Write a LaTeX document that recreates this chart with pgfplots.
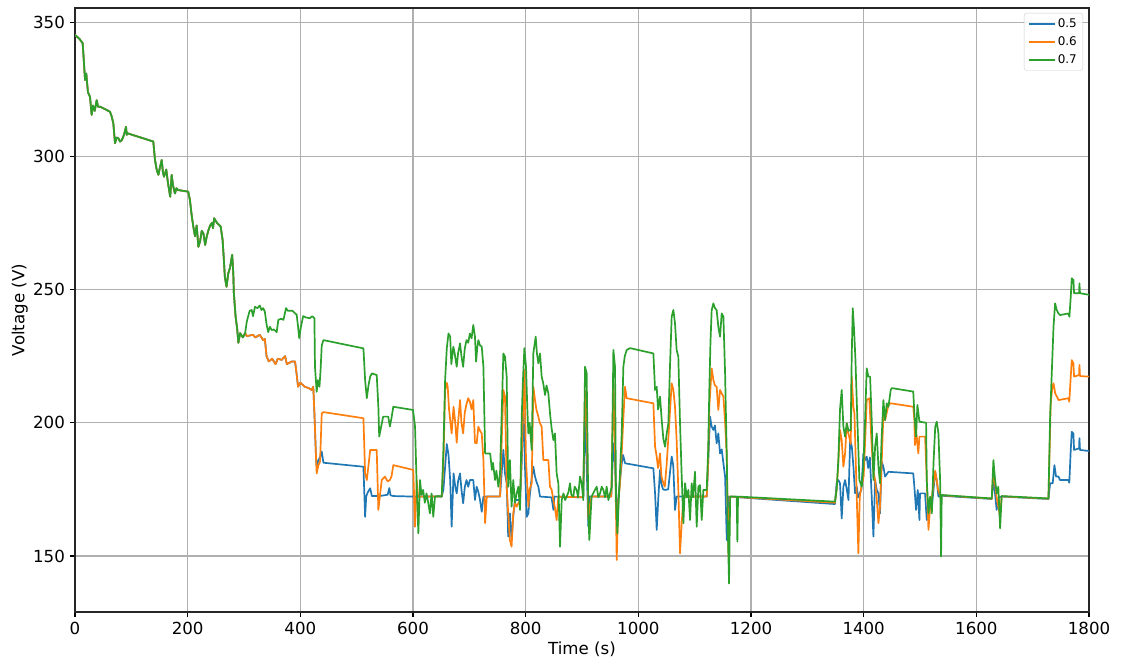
\documentclass[border=0pt]{standalone}
\usepackage{fontspec}
\setmainfont{DejaVu Sans}
\usepackage{pgfplots}
\usepackage{pgfplotstable}
\pgfplotsset{compat=1.18}
\definecolor{mblue}{HTML}{1F77B4}
\definecolor{morange}{HTML}{FF7F0E}
\definecolor{mgreen}{HTML}{2CA02C}
\definecolor{mgrid}{HTML}{B0B0B0}

\pgfplotstableread{
x y
0 345.5
8 344
13.6 342.4
15 338
17.8 328.6
20 331
23 324
26.6 322.3
29.6 315.5
32 319
35 317
38.5 321
41 318.5
44.4 318.6
50 318
62 316.7
65 315
68 312.4
71 304.9
74 307
77 306.7
80 305.5
83 306
87 308
90.5 311
92 308
93 308.6
139 305.5
142 298.6
145 295
148 293
151 296
154 298.6
156 294
158 292.3
162 295
165 290
169 284.8
171.6 293
174 289
177.5 286
180 288
183 287.3
201 286.7
204 283.6
207 278
210 273.6
213 270
216 274
219 266
222 268
225 272
228 271
231 266.7
234 270
237 272.3
240 274
243 275
245 273
247 276.7
252 275
258.6 273.6
262 268.6
264 262
266 254.8
269 251
272 256
275 258
279 263
281 256
282 248.6
285 240
288 235
290 230
293 233.6
298 232
302 233.6
305 238
310 242
313.7 242.3
316 240
319.5 243.5
324 243
328 244
331 242.3
334 243
337 241.7
340 237
343 234
346 236
349 234.8
353 235
358 234
361 238.6
366 239
370 238.6
374.6 243
378 242
386 242
393.5 240.5
396 236
398 231.7
401 236
405 240
410 239.5
417 239.2
421 240
425 239.2
426 221
429 211.6
431 216
434 213.5
436 220
438 229
441 231
512 227.9
515 216
518 209.2
521 214
524 217.3
527 218.5
535.6 217.9
538.5 206
540 194.8
543 198
547 202.3
556 202.3
559 198.6
562 202
565 206
600 204.8
603.6 198.6
606.6 176
609.5 158.5
612.5 178.5
615 173
618 174.8
621 170
624 173.5
627 170
630 166
633 173.5
636 164.7
639 172.3
645 172.5
651 172.3
654 190
657 216
660 228
663 233.5
666 232.3
668 222
671.6 228.5
674 226
677.6 221
680 226
683.5 229.8
686 225
689 221
692 228
695 231
698 230
701 233.5
704 231.7
707 236.7
710 232.3
712 222.9
714 228
716 231
719 229
722 228.6
725 221
728 188.5
737 188.5
740 182.3
742 185
745.6 178.5
748 182
751.5 176
754.5 181
757 200
760.4 226
763.3 224.8
766.3 217.3
769 176
772 186
775 168.5
778 178.5
781 170
784 173.5
787 176
790 167.3
793 202.3
795 215
797.7 228
800.6 221
803 205
804.8 196
807 200
810.7 189.8
813.6 226
817.8 232.3
820 226
822.5 222.3
825.5 226
828.4 217.3
831 215
834.4 210.4
837 214
840.3 211
843.2 203.5
846 198
849.2 193.5
852 196
855 181
858 177.3
861 153.5
864 171
867 173.5
870 171
872.8 172.3
876 174
878.7 177.3
881 173
884.6 172.3
887 176
890.5 174.8
893 172
896.5 179.8
899.4 177.3
902.4 171
905.4 221
908.3 218.5
911.3 166
913 156
917 172.3
921 174
926 176
929 172
932 173.5
935 176
938 174.8
941 172
943.8 176
946.8 171
949.8 173.5
952.7 176
955.7 227.3
958.6 221
960.4 171
962.8 158.5
966.3 176
970.5 196
973.4 221
976 225
979.3 227.3
985.3 228
1026.7 226
1029.7 212.3
1032.6 213.5
1035 205
1038.5 209.8
1041.5 201
1044.4 194
1047.4 191
1050.4 196
1053.3 199.8
1056 220
1059.2 239.8
1062.2 242.3
1065.1 237.3
1068 227.3
1071 224.8
1074 199.8
1077 179.8
1080 162.3
1082.9 177.3
1086 172
1088.8 174.8
1091.8 163.5
1094.7 177.3
1097 172
1100.6 181.6
1103.6 161
1106.6 176
1109.5 176.6
1112.5 163.5
1115.4 174.8
1121.4 174.8
1124 190
1126 212.3
1128 230
1130.2 242.3
1133.2 244.8
1136 243
1139 242.3
1142 236
1145 232.3
1148 241
1151 239.8
1154 218.5
1157 187.3
1158.6 162.3
1161 139.7
1163 172.3
1174.6 172.3
1175.8 155.4
1177 172.3
1349 170.4
1352 174.8
1355 186
1358 205
1361 212.3
1364 198.5
1367 194.8
1370 199.8
1373 197
1377 197.3
1378.8 225
1380.6 243
1383 234.8
1385.4 223.6
1389 199.8
1392.4 178.5
1396.6 176
1399.5 183.5
1402.5 201
1405.4 220.4
1408.4 217.3
1411.4 217.3
1414.3 201
1417.3 178.5
1420.3 191
1423.2 196
1426.2 183.5
1429 177.3
1432 194.8
1435 208.5
1438 201
1441 207.3
1444 206
1448 212.3
1450 213
1488 211.7
1490 203.5
1493 194.8
1495.4 206.7
1499 200.4
1510.8 200
1512 178.5
1515 166
1518 172.3
1521 166
1524 185
1527 198.5
1529.7 200.4
1532.7 196
1535.7 178.5
1537.4 149.8
1538.6 172.9
1627.4 171.6
1630.3 186
1633.3 178.5
1636.2 173.5
1639 176
1642.2 160.4
1645 172.5
1728 171.6
1731 202.3
1737 236
1739.8 244.8
1742.7 242.3
1745.7 241
1748.6 240.4
1763.4 241
1765.2 239.8
1767.6 247.3
1769.4 254.2
1772.3 253.6
1773.5 248.6
1782.4 248.6
1783 252.3
1784 248.6
1800 248
}\greendata

\pgfplotstableread{
x y
0 345.5
8 344
13.6 342.4
15 338
17.8 328.6
20 331
23 324
26.6 322.3
29.6 315.5
32 319
35 317
38.5 321
41 318.5
44.4 318.6
50 318
62 316.7
65 315
68 312.4
71 304.9
74 307
77 306.7
80 305.5
83 306
87 308
90.5 311
92 308
93 308.6
139 305.5
142 298.6
145 295
148 293
151 296
154 298.6
156 294
158 292.3
162 295
165 290
169 284.8
171.6 293
174 289
177.5 286
180 288
183 287.3
201 286.7
204 283.6
207 278
210 273.6
213 270
216 274
219 266
222 268
225 272
228 271
231 266.7
234 270
237 272.3
240 274
243 275
245 273
247 276.7
252 275
258.6 273.6
262 268.6
264 262
266 254.8
269 251
272 256
275 258
279 263
281 256
282 248.6
285 240
288 235
290 230
293 233.6
298 232
302 233.6
305 232.5
316 233
320 232
328 233
334 231
337 231.5
340 225
344 223
350 224
356 222
360 224
367 223.6
373 225
376 222
385 223
390.6 223
393 219
396 213.5
400 215
408 213.5
415 213
420 212.3
423 213.5
425 203.5
428 186
429 181
432 184
435 185.4
438 203.5
441 204
512 201.7
515 181
518 178.5
521 184
524 189.8
535.6 189.8
538.5 167.3
541 172
544.5 178.5
550 179.8
555 178
559 178.5
562 180
565 184.1
600.5 182.3
603.6 161
606.6 178.5
609 172
612.5 172.3
651 172.3
654 185
657 212.3
660 215
661.6 213.5
664 205
666 201
668.6 196
672 206
675 200
677.6 192.5
680 200
683.5 208.5
686 200
689 196
692 204
695 207
698 209.2
701 207.9
704 205
707 208.5
710 192.5
713 192.3
716 198.5
719 197
722 196
725 186
728 162.3
731 172.3
754.5 172.3
757 190
760.4 212.3
763.3 209.8
766.3 176
769 166
772 156
775 153.5
778 166
781 170
784 168.5
790 171
794 195
797.7 219.8
800.6 186
804.8 168.5
807 175
810.7 177.3
813.6 213.5
816.6 208.5
819 205
822.5 202.3
825 200
828.4 198.5
831.4 186
840.3 186
843.2 176
846 175
849.2 171
852 168
855 163.5
858 172.3
902 172
905.4 212
908.3 200
911.3 164
913 168
917 172.3
952 172.3
955.7 214.8
958.6 191
961.6 148.5
964.5 171
967 176
970.5 188.5
973 200
976.4 213.5
979.3 209.2
1026.7 207.3
1029.7 191
1032.6 187.3
1035 183
1038.5 188.5
1041 180
1044.4 177.3
1047 176
1050.4 184.8
1055 200
1059.2 214.8
1062.2 212.3
1065.1 206
1068 193.5
1071 174.8
1074 151
1077 162.3
1080 172.3
1121.4 172.3
1124 185
1126 206
1130.2 220.4
1133.2 216
1136 214
1139 213.5
1142 204.8
1145 212.3
1148 211
1151 209.8
1154 200
1157 187.3
1160 149.8
1163 172.3
1349 170
1352 175
1355 185
1358 197.3
1361 193.5
1364 183.5
1367 188.5
1370 199.8
1373 196
1377 192
1378.8 217.3
1381.7 206
1383.6 203.5
1387.7 172.3
1390.6 151
1393 172
1396 176
1400 180
1403 195
1405.4 208.5
1410 209.2
1414.3 191
1417 182
1420.3 178.5
1423 172
1426.2 162.3
1429 168.5
1432 185
1435 203.5
1438 201
1444 206.7
1448 207.3
1488 206
1490 201
1491 191.6
1494 195.4
1497 188.5
1499 194.8
1509 194.8
1512 178.5
1515 159.8
1518 168.5
1521 172
1527 182
1532 175
1536 172.5
1538.6 172.8
1627.4 171.5
1630.3 182
1633.3 177
1636 172
1642 165
1645 172.4
1728 171.5
1732 207.3
1735 213.5
1737 214.8
1740 211
1743 209.8
1746 208.5
1763.4 209.2
1765 207.9
1767.6 217.3
1769.4 223.5
1772.3 222.3
1773.5 217.3
1782.4 217.9
1783 221.7
1784 217.5
1800 217.3
}\orangedata

\pgfplotstableread{
x y
0 345.5
8 344
13.6 342.4
15 338
17.8 328.6
20 331
23 324
26.6 322.3
29.6 315.5
32 319
35 317
38.5 321
41 318.5
44.4 318.6
50 318
62 316.7
65 315
68 312.4
71 304.9
74 307
77 306.7
80 305.5
83 306
87 308
90.5 311
92 308
93 308.6
139 305.5
142 298.6
145 295
148 293
151 296
154 298.6
156 294
158 292.3
162 295
165 290
169 284.8
171.6 293
174 289
177.5 286
180 288
183 287.3
201 286.7
204 283.6
207 278
210 273.6
213 270
216 274
219 266
222 268
225 272
228 271
231 266.7
234 270
237 272.3
240 274
243 275
245 273
247 276.7
252 275
258.6 273.6
262 268.6
264 262
266 254.8
269 251
272 256
275 258
279 263
281 256
282 248.6
285 240
288 235
290 230
293 233.6
298 232
302 233.6
305 232.5
316 233
320 232
328 233
334 231
337 231.5
340 225
344 223
350 224
356 222
360 224
367 223.6
373 225
376 222
385 223
390.6 223
393 219
396 213.5
400 215
408 213.5
415 213
420 212.3
423 213.5
425 203.5
428 186
429 183.5
432 186
435 187
438 189.2
441 185
512 183.5
515 164.7
517 172.5
520 174
524 175.4
527 172.5
541 172.5
555 173
558 175.5
560 172.8
565 172.5
600.5 172.3
651 172.3
654 175
657 183.5
660 192
663 188
666 178.5
668.6 161
672 181
675 176
677.6 173.5
680 178
683.5 181
686 175
689 169.8
692 176
695 178.5
698 176
701 178.5
707 178.5
710 171
713 176
716 174
719 171
722 166.6
725 172.3
754.5 172.3
757 180
760.4 189.8
763.3 181
766.3 177.3
769 157.3
772 166
775 156
778 165
781 171
790 171
793 185
795.9 207.3
798.8 183.5
801.8 164.7
804.8 166
807 172
810 178
813.6 183.5
816.6 179.8
819 178
822.5 176
825.5 172.3
846 172
849.2 167.3
851 172.3
902 172
905.4 203.5
908.3 183.5
911.3 161
913 172.3
952 172.3
955.7 192.3
958.6 184.8
961.6 164.7
964.5 172
970.5 184.8
973 187.9
976.4 184.8
1026.7 182.9
1029.7 173.5
1032.6 159.8
1035.6 172.3
1038.5 182.3
1041 177
1044 175
1047.4 174.8
1053 175
1059.2 187.3
1062 184
1065.1 167.3
1068 172.3
1121.4 172.3
1124 185
1127.3 202.3
1130.2 198.5
1133.2 197.3
1136 199
1139 192.3
1142 196
1145 188.5
1148 190
1151 184.8
1154 179.8
1157 156
1160 172.3
1349 169.5
1352 177.3
1355 178.5
1358 177.3
1361 164.1
1364 176
1367 178.5
1370 175
1373 171
1376 193.5
1379 191
1381.8 183.5
1384.7 173.5
1387.7 176
1390 172
1396 175
1399.5 188.5
1402.5 186
1405.4 187.3
1408 183
1411 187
1414.3 172.3
1417.3 157.3
1420.3 178.5
1423 175
1426.2 173.5
1429 166
1432 185.4
1435 183.5
1438 179.8
1444 181.6
1488 181
1490 176
1493 167.3
1496 174.8
1499 163.5
1500 173.5
1509 173.5
1512 163.5
1515 167.3
1518 172
1521 168.5
1524 175
1527 181.6
1529.7 178.5
1532.7 172.3
1536 172.5
1538.6 172.6
1627.4 171.4
1630 178.5
1633 174
1636 167.3
1640 172
1645 172.3
1728 171.4
1731 177.3
1735.6 177.3
1738.6 184.1
1741.5 179.8
1745.7 179.8
1748.6 178.5
1763.4 178.5
1765 177.5
1767.6 189.8
1769.4 196.6
1772.3 196
1773.5 189.8
1782.4 190.4
1783 194.2
1784 189.8
1800 189.4
}\bluedata

\begin{document}
\begin{tikzpicture}
\begin{axis}[
  scale only axis,
  width=1014bp, height=604bp,
  xmin=0, xmax=1800, ymin=129, ymax=355.6,
  xtick={0,200,...,1800},
  ytick={150,200,...,350},
  tick pos=left,
  tick align=outside,
  major tick length=4.9bp,
  tick style={line width=1.1bp, black},
  axis line style={line width=1.1bp, black!85},
  grid=major,
  grid style={line width=1.1bp, mgrid},
  /pgf/number format/assume math mode=true,
  /pgf/number format/1000 sep={},
  ticklabel style={font=\fontsize{16.7}{20}\selectfont},
  yticklabel style={inner sep=0pt, anchor=east, xshift=-5bp},
  xticklabel style={inner sep=0pt, anchor=north, yshift=-5bp},
  xlabel={Time (s)}, ylabel={Voltage (V)},
  label style={font=\fontsize{16.7}{20}\selectfont},
  xlabel style={at={(axis description cs:0.5,-0.0613)}, anchor=center},
  ylabel style={at={(axis description cs:-0.0545,0.5)}, anchor=center},
  legend style={at={(rel axis cs:1,1)}, anchor=north east, xshift=-6bp, yshift=-5bp,
    draw=black!20, rounded corners=2.5bp, fill=white, fill opacity=0.8, text opacity=1,
    font=\fontsize{12}{14}\selectfont, row sep=3.6bp, inner xsep=4bp, inner ysep=3.5bp},
  legend cell align=left,
  legend image code/.code={\draw[#1] (0bp,0bp) -- (26bp,0bp);},
  every axis plot/.append style={line width=1.7bp, line join=round},
]
\addplot[mblue] table[x=x, y=y] {\bluedata};
\addplot[morange] table[x=x, y=y] {\orangedata};
\addplot[mgreen] table[x=x, y=y] {\greendata};
\legend{0.5, 0.6, 0.7}
\end{axis}
\pgfresetboundingbox
\path[use as bounding box] ([shift={(-75bp,-50bp)}]current axis.south west) rectangle ([shift={(32bp,8bp)}]current axis.north east);
\end{tikzpicture}
\end{document}
